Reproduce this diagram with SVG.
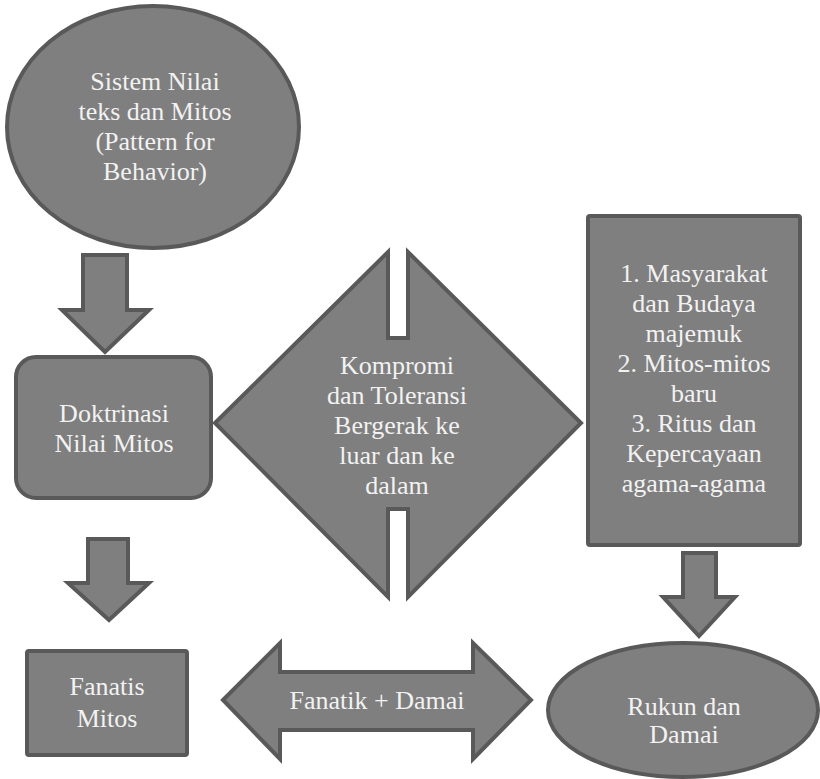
<svg xmlns="http://www.w3.org/2000/svg" width="820" height="779" viewBox="0 0 820 779">
<style>
.s{fill:#7f7f7f;stroke:#595959;stroke-width:4;stroke-linejoin:miter}
.t{font-family:'Liberation Serif','Times New Roman',Times,serif;font-size:26px;fill:#f2f2f2;text-anchor:middle}
</style>
<rect width="820" height="779" fill="#ffffff"/>
<g id="connectors">
<path class="s" d="M83,255 H127 V310 H149 L105,352 L62,310 H83 Z"/>
<path class="s" d="M88,539 H128 V583 H149 L109,620 L68,583 H88 Z"/>
<path class="s" d="M683,553 H716 V597 H735 L699,636 L663,597 H683 Z"/>
<g id="fanatik-damai">
<path class="s" d="M223,700 L280,643 V672 H473 V643 L531,700 L473,759 V730 H280 V759 Z"/>
<text class="t" x="377" y="709">Fanatik + Damai</text>
</g>
</g>
<g id="sistem-nilai">
<ellipse class="s" cx="153" cy="127" rx="146" ry="121"/>
<text class="t" x="155" y="90">Sistem Nilai</text>
<text class="t" x="155" y="120">teks dan Mitos</text>
<text class="t" x="155" y="150">(Pattern for</text>
<text class="t" x="155" y="180">Behavior)</text>
</g>
<g id="doktrinasi">
<rect class="s" x="16" y="357" width="195" height="141" rx="20"/>
<text class="t" x="114" y="422">Doktrinasi</text>
<text class="t" x="114" y="452">Nilai Mitos</text>
</g>
<g id="kompromi">
<path class="s" d="M215,423 L388,252 V338 H408 V252 L581,423 L408,597 V509 H388 V597 Z"/>
<text class="t" x="397" y="374">Kompromi</text>
<text class="t" x="397" y="404">dan Toleransi</text>
<text class="t" x="397" y="434">Bergerak ke</text>
<text class="t" x="397" y="464">luar dan ke</text>
<text class="t" x="397" y="494">dalam</text>
</g>
<g id="masyarakat">
<rect class="s" x="588" y="216" width="212" height="329" rx="2"/>
<text class="t" x="694" y="282">1. Masyarakat</text>
<text class="t" x="694" y="312">dan Budaya</text>
<text class="t" x="694" y="342">majemuk</text>
<text class="t" x="694" y="372">2. Mitos-mitos</text>
<text class="t" x="694" y="402">baru</text>
<text class="t" x="694" y="432">3. Ritus dan</text>
<text class="t" x="694" y="462">Kepercayaan</text>
<text class="t" x="694" y="492">agama-agama</text>
</g>
<g id="fanatis">
<rect class="s" x="27" y="651" width="160" height="104" rx="2"/>
<text class="t" x="107" y="695">Fanatis</text>
<text class="t" x="107" y="727">Mitos</text>
</g>
<g id="rukun">
<ellipse class="s" cx="683" cy="710" rx="135" ry="67"/>
<text class="t" x="684" y="715">Rukun dan</text>
<text class="t" x="684" y="743">Damai</text>
</g>
</svg>
